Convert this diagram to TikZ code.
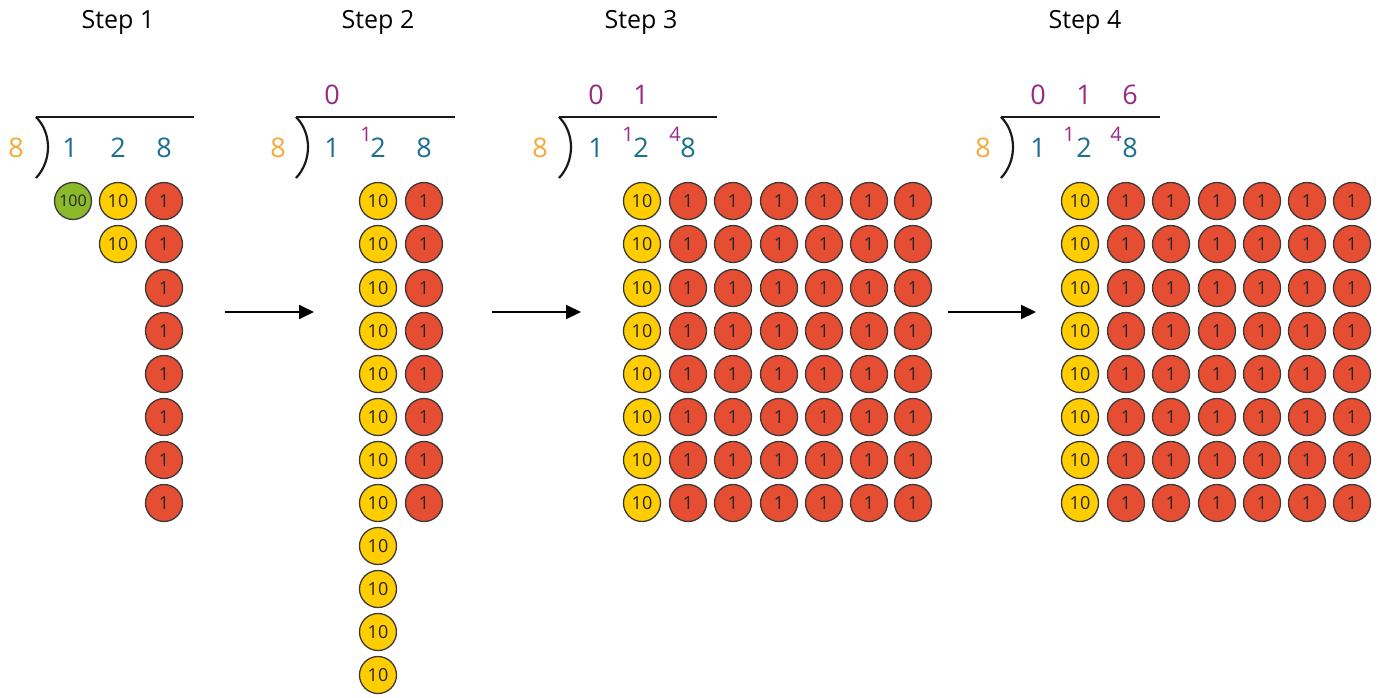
\documentclass[tikz,border=0pt]{standalone}
\usepackage{fontspec}
\setmainfont{Open Sans}
\usetikzlibrary{arrows.meta}
\definecolor{divcol}{HTML}{F5A93B}
\definecolor{digcol}{HTML}{1B6F8F}
\definecolor{quocol}{HTML}{982A85}
\definecolor{hundred}{HTML}{8CB82B}
\definecolor{ten}{HTML}{FFCD00}
\definecolor{one}{HTML}{E54E32}
\definecolor{rim}{HTML}{3A3A3A}
\tikzset{
  counter/.style={circle, draw=rim, line width=1.3pt, minimum size=37pt, inner sep=0pt,
    font=\fontsize{18}{18}\selectfont, text=black!85},
  hund/.style={counter, fill=hundred, font=\fontsize{16}{16}\selectfont},
  tens/.style={counter, fill=ten},
  ones/.style={counter, fill=one},
  title/.style={font=\fontsize{25}{30}\selectfont},
  divisor/.style={text=divcol, font=\fontsize{27}{30}\selectfont},
  digit/.style={text=digcol, font=\fontsize{27}{30}\selectfont},
  quot/.style={text=quocol, font=\fontsize{27}{30}\selectfont},
  carry/.style={text=quocol, font=\fontsize{20}{20}\selectfont},
  bar/.style={line width=2.2pt, black!90},
  flow/.style={line width=2pt, -{Triangle[length=15pt, width=14pt]}},
}
\begin{document}
\begin{tikzpicture}[x=1pt, y=-1pt]
\useasboundingbox (0,0) rectangle (1381,697);

% headings
\node[title] (h1) at (118,22) {Step 1};
\node[title] (h2) at (378,22) {Step 2};
\node[title] (h3) at (641,22) {Step 3};
\node[title] (h4) at (1085,22) {Step 4};

% division brackets: left end of bar / right end of bar
\foreach \l/\r in {36/194, 296/455, 559/717, 1001/1160} {
  \draw[bar] (\l,117) -- (\r,117);
  \draw[bar] (\l,117) .. controls (\l+16,133) and (\l+16,161) .. (\l,178);
}

% Step 1 numbers
\node[divisor] (d1) at (16,148) {8};
\node[digit] (a1) at (70,148) {1};
\node[digit] (b1) at (118,148) {2};
\node[digit] (c1) at (164,148) {8};

% Step 2 numbers
\node[divisor] (d2) at (278,148) {8};
\node[digit] (a2) at (332,148) {1};
\node[digit] (b2) at (378,148) {2};
\node[digit] (c2) at (424,148) {8};
\node[carry] (k2) at (366,134) {1};
\node[quot] (q2a) at (332,95) {0};

% Step 3 numbers
\node[divisor] (d3) at (540,148) {8};
\node[digit] (a3) at (596,148) {1};
\node[digit] (b3) at (641,148) {2};
\node[digit] (c3) at (688,148) {8};
\node[carry] (k3a) at (628,134) {1};
\node[carry] (k3b) at (675,134) {4};
\node[quot] (q3a) at (596,95) {0};
\node[quot] (q3b) at (641,95) {1};

% Step 4 numbers
\node[divisor] (d4) at (983,148) {8};
\node[digit] (a4) at (1038,148) {1};
\node[digit] (b4) at (1084,148) {2};
\node[digit] (c4) at (1130,148) {8};
\node[carry] (k4a) at (1069,134) {1};
\node[carry] (k4b) at (1116,134) {4};
\node[quot] (q4a) at (1038,95) {0};
\node[quot] (q4b) at (1084,95) {1};
\node[quot] (q4c) at (1130,95) {6};

% Step 1 counters
\node[hund] (s1h) at (73,201) {100};
\node[tens] (s1t1) at (118,201) {10};
\node[tens] (s1t2) at (118,244) {10};
\foreach \y [count=\i] in {201,244,288,331,374,417,460,503}
  \node[ones] (s1o\i) at (164,\y) {1};

% Step 2 counters
\foreach \y [count=\i] in {201,244,288,331,374,417,460,503,546,589,632,675}
  \node[tens] (s2t\i) at (378,\y) {10};
\foreach \y [count=\i] in {201,244,288,331,374,417,460,503}
  \node[ones] (s2o\i) at (424,\y) {1};

% Step 3 and Step 4 counters
\foreach \y [count=\i] in {201,244,288,331,374,417,460,503} {
  \node[tens] (s3t\i) at (642,\y) {10};
  \node[tens] (s4t\i) at (1080,\y) {10};
  \foreach \x [count=\j] in {688,733,779,824,869,913}
    \node[ones] (s3o\i-\j) at (\x,\y) {1};
  \foreach \x [count=\j] in {1126,1171,1217,1262,1307,1352}
    \node[ones] (s4o\i-\j) at (\x,\y) {1};
}

% arrows between steps
\coordinate (p1) at (225,312);
\coordinate (p2) at (314,312);
\coordinate (p3) at (492,312);
\coordinate (p4) at (581,312);
\coordinate (p5) at (948,312);
\coordinate (p6) at (1036,312);
\draw[flow] (p1) -- (p2);
\draw[flow] (p3) -- (p4);
\draw[flow] (p5) -- (p6);
\end{tikzpicture}
\end{document}
